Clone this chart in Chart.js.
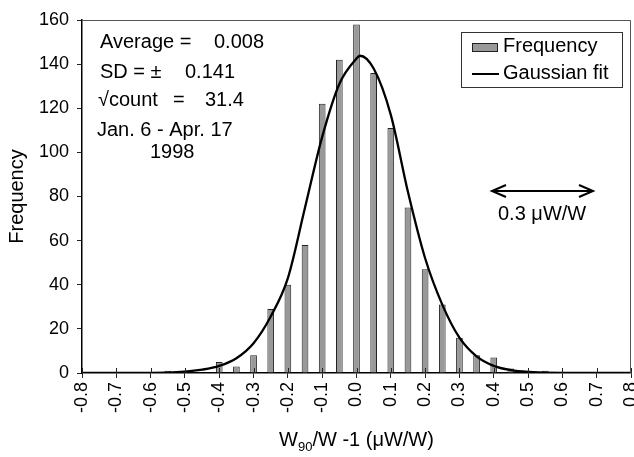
<!DOCTYPE html>
<html>
<head>
<meta charset="utf-8">
<script src="https://cdn.jsdelivr.net/npm/chart.js@4/dist/chart.umd.min.js"></script>
<style>
  html, body { margin: 0; padding: 0; background: #fff; }
  #wrap { width: 634px; height: 457px; }
</style>
</head>
<body>
<div id="wrap"><canvas id="c" width="634" height="457"></canvas></div>
<script>
// ---- data ----
const binCenters = [-0.55, -0.5, -0.45, -0.4, -0.35, -0.3, -0.25, -0.2, -0.15, -0.1, -0.05, 0.0,
                    0.05, 0.1, 0.15, 0.2, 0.25, 0.3, 0.35, 0.4, 0.45, 0.5, 0.55];
const frequency  = [1, 1, 0, 5, 3, 8, 29, 40, 58, 122, 142, 158,
                    136, 111, 75, 47, 31, 16, 8, 7, 2, 1, 1];

const fitX = [-0.8, -0.6, -0.5, -0.45, -0.4, -0.35, -0.3, -0.25, -0.2, -0.15, -0.1, -0.05, 0.0, 0.01,
              0.05, 0.1, 0.15, 0.2, 0.25, 0.3, 0.35, 0.4, 0.45, 0.5, 0.6, 0.8];
const fitY = [0, 0, 0.6, 1.5, 3.2, 6.7, 13.5, 25.6, 43, 75, 107, 131, 142.5, 143.8,
              138, 117, 82, 52, 31, 16, 7.5, 3.2, 1.3, 0.5, 0, 0];

const xTickMin = -0.8, xTickMax = 0.8, xTickStep = 0.1;
const yTickMin = 0, yTickMax = 160, yTickStep = 20;

const statLines = [
  { parts: [["Average =", 100], ["0.008", 214]], y: 42 },
  { parts: [["SD = \u00B1", 100], ["0.141", 185]], y: 72 },
  { parts: [["\u221Acount", 98], ["=", 173], ["31.4", 205]], y: 100 },
  { parts: [["Jan. 6 - Apr. 17", 97]], y: 130 },
  { parts: [["1998", 150]], y: 152 }
];
const legendLabels = ["Frequency", "Gaussian fit"];
const scaleNote = "0.3 \u03BCW/W";

const FONT = '"Liberation Sans", Arial, Helvetica, sans-serif';

const decorations = {
  id: 'decorations',
  afterDraw(chart) {
    const ctx = chart.ctx;
    const a = chart.chartArea;
    const xs = chart.scales.x;
    ctx.save();
    // frame top/right
    ctx.strokeStyle = '#555';
    ctx.lineWidth = 1;
    ctx.beginPath();
    ctx.moveTo(a.left, a.top + 0.5);
    ctx.lineTo(a.right - 0.5, a.top + 0.5);
    ctx.lineTo(a.right - 0.5, a.bottom);
    ctx.stroke();
    // inward x tick marks
    ctx.strokeStyle = '#222';
    ctx.beginPath();
    xs.ticks.forEach((t, i) => {
      const px = Math.round(xs.getPixelForTick(i)) + 0.5;
      ctx.moveTo(px, a.bottom);
      ctx.lineTo(px, a.bottom - 5);
    });
    ctx.stroke();

    // stats text
    ctx.fillStyle = '#000';
    ctx.font = '20px ' + FONT;
    ctx.textBaseline = 'middle';
    ctx.textAlign = 'left';
    statLines.forEach(l => l.parts.forEach(p => ctx.fillText(p[0], p[1], l.y)));

    // double arrow
    const ay = 191, ax0 = 492, ax1 = 593;
    ctx.strokeStyle = '#000';
    ctx.lineWidth = 2;
    ctx.beginPath();
    ctx.moveTo(ax0, ay); ctx.lineTo(ax1, ay);
    ctx.moveTo(ax0 + 14, ay - 6); ctx.lineTo(ax0, ay); ctx.lineTo(ax0 + 14, ay + 6);
    ctx.moveTo(ax1 - 14, ay - 6); ctx.lineTo(ax1, ay); ctx.lineTo(ax1 - 14, ay + 6);
    ctx.stroke();
    ctx.fillText(scaleNote, 498, 214);

    // legend
    ctx.lineWidth = 1;
    ctx.strokeStyle = '#333';
    ctx.fillStyle = '#fff';
    ctx.fillRect(461, 32, 161, 55);
    ctx.strokeRect(461.5, 32.5, 161, 55);
    ctx.fillStyle = '#999';
    ctx.fillRect(472, 43, 26, 9);
    ctx.strokeStyle = '#222';
    ctx.strokeRect(472.5, 43.5, 25, 8);
    ctx.lineWidth = 2;
    ctx.strokeStyle = '#000';
    ctx.beginPath(); ctx.moveTo(472, 74); ctx.lineTo(499, 74); ctx.stroke();
    ctx.fillStyle = '#000';
    ctx.fillText(legendLabels[0], 503, 46);
    ctx.fillText(legendLabels[1], 503, 73);

    // x axis title with subscript
    const ty = 440;
    ctx.font = '20px ' + FONT;
    const w1 = ctx.measureText('W').width;
    ctx.font = '13px ' + FONT;
    const w2 = ctx.measureText('90').width;
    ctx.font = '20px ' + FONT;
    const rest = '/W -1 (\u03BCW/W)';
    const w3 = ctx.measureText(rest).width;
    let x0 = (a.left + a.right) / 2 - (w1 + w2 + w3) / 2;
    ctx.fillText('W', x0, ty);
    ctx.font = '13px ' + FONT;
    ctx.fillText('90', x0 + w1, ty + 7);
    ctx.font = '20px ' + FONT;
    ctx.fillText(rest, x0 + w1 + w2, ty);
    ctx.restore();
  }
};

new Chart(document.getElementById('c'), {
  type: 'bar',
  data: {
    datasets: [
      {
        type: 'line',
        label: legendLabels[1],
        data: fitX.map((x, i) => ({ x: x, y: fitY[i] })),
        borderColor: '#000',
        borderWidth: 2.3,
        pointRadius: 0,
        fill: false,
        cubicInterpolationMode: 'monotone',
        order: 0
      },
      {
        type: 'bar',
        label: legendLabels[0],
        data: binCenters.map((x, i) => ({ x: x, y: frequency[i] })),
        backgroundColor: '#999',
        borderColor: '#222',
        borderWidth: 1,
        barPercentage: 0.39,
        categoryPercentage: 1,
        order: 1
      }
    ]
  },
  options: {
    responsive: false,
    animation: false,
    devicePixelRatio: 1,
    layout: { padding: { top: 20, right: 3, left: 0, bottom: 0 } },
    plugins: { legend: { display: false }, tooltip: { enabled: false } },
    scales: {
      x: {
        type: 'linear',
        min: xTickMin, max: xTickMax,
        offset: false,
        afterFit: s => { s.height = 84; s.paddingRight = 0; s.paddingLeft = 0; },
        grid: { display: true, drawOnChartArea: false, drawTicks: true, tickLength: 5, color: '#222', offset: false },
        border: { display: true, color: '#000', width: 1.5 },
        ticks: {
          stepSize: xTickStep,
          minRotation: 90, maxRotation: 90,
          padding: 4,
          color: '#000',
          font: { size: 18, family: FONT },
          callback: v => (Math.abs(v) < 1e-9 ? 0 : v).toFixed(1)
        },
        title: { display: false }
      },
      y: {
        min: yTickMin, max: yTickMax,
        afterFit: s => { s.width = 82; s.paddingTop = 0; s.paddingBottom = 0; },
        grid: { display: true, drawOnChartArea: false, drawTicks: true, tickLength: 5, color: '#222' },
        border: { display: true, color: '#000', width: 1.5 },
        ticks: {
          stepSize: yTickStep,
          padding: 8,
          color: '#000',
          font: { size: 18, family: FONT }
        },
        title: { display: true, text: 'Frequency', color: '#000', font: { size: 20, family: FONT }, padding: { top: 5, bottom: 0 } }
      }
    }
  },
  plugins: [decorations]
});
</script>
</body>
</html>
